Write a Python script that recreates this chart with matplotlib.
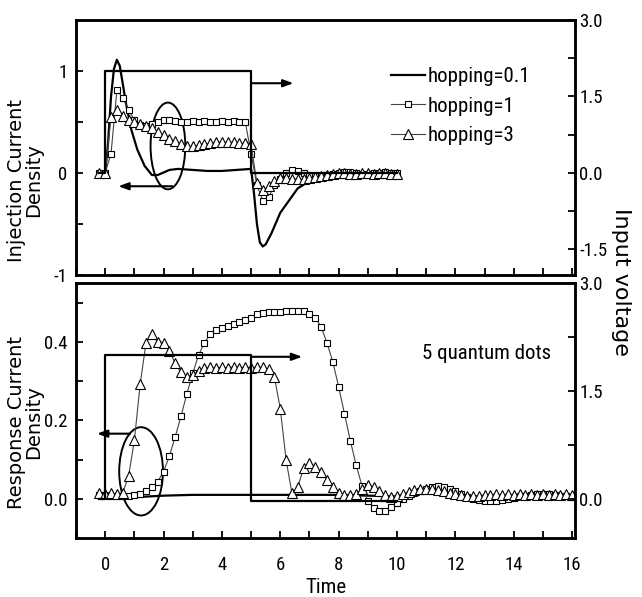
import numpy as np
import matplotlib
matplotlib.use("Agg")
import matplotlib.pyplot as plt
from matplotlib import font_manager
from matplotlib.patches import Ellipse
from matplotlib.ticker import FixedLocator, MultipleLocator, FormatStrFormatter

# time grids (markers every 0.2)
t_top = np.round(np.arange(-0.2, 10.01, 0.2), 1)
t_bot = np.round(np.arange(-0.2, 16.01, 0.2), 1)

# input voltage (right axis)
t_volt = [-0.2, 0, 0, 5, 5, 10]
v_top = [0, 0, 2, 2, 0, 0]
v_bot = [0, 0, 2, 2, -0.03, -0.03]

# injection current, hopping=0.1 (solid line)
t_h01_top = [-0.2, 0.0, 0.1, 0.2, 0.3, 0.4, 0.5, 0.6, 0.7, 0.9, 1.1, 1.35, 1.6, 1.8,
             2.2, 2.5, 3.0, 3.5, 4.0, 4.5, 5.0, 5.1, 5.2, 5.3, 5.4, 5.5, 5.7, 6.0,
             6.4, 6.6, 7.0, 7.5, 8.0, 9.0, 10.0]
j_h01_top = [0.0, 0.0, 0.3, 0.75, 1.02, 1.11, 1.05, 0.88, 0.7, 0.42, 0.23, 0.07, -0.02, -0.02,
             0.03, 0.04, 0.03, 0.02, 0.02, 0.03, 0.04, -0.2, -0.5, -0.68, -0.72, -0.7, -0.59, -0.39,
             -0.23, -0.15, -0.08, -0.04, -0.02, -0.01, 0.0]

# injection current, hopping=1 and hopping=3
j_h1_top = [0.00, 0.00, 0.19, 0.81, 0.74, 0.62, 0.52, 0.47, 0.46, 0.48,
            0.50, 0.52, 0.52, 0.51, 0.50, 0.50, 0.51, 0.50, 0.51, 0.50,
            0.50, 0.51, 0.50, 0.51, 0.50, 0.50, 0.19, -0.12, -0.27, -0.24,
            -0.12, -0.06, 0.00, 0.03, 0.02, 0.00, -0.02, -0.03, -0.03, -0.02,
            -0.01, 0.00, 0.01, 0.01, 0.00, -0.01, -0.01, 0.00, 0.00, 0.01,
            0.00, 0.00]
j_h3_top = [0.00, 0.00, 0.55, 0.62, 0.56, 0.52, 0.50, 0.48, 0.46, 0.44,
            0.40, 0.37, 0.33, 0.31, 0.28, 0.26, 0.26, 0.27, 0.28, 0.29,
            0.30, 0.30, 0.30, 0.30, 0.29, 0.29, 0.28, -0.10, -0.17, -0.13,
            -0.08, -0.05, -0.05, -0.06, -0.06, -0.06, -0.05, -0.04, -0.03, -0.02,
            -0.01, 0.00, 0.00, -0.01, -0.01, 0.00, 0.00, -0.01, 0.00, 0.00,
            -0.01, -0.01]

# response current
t_h01_bot = [-0.2, 0, 1, 2, 3, 4, 5, 6, 7, 8, 9, 10]
j_h01_bot = [0, 0, 0.004, 0.008, 0.01, 0.01, 0.01, 0.01, 0.01, 0.01, 0.008, 0.006]
j_h1_bot = [0.010, 0.010, 0.008, 0.008, 0.008, 0.008, 0.010, 0.012, 0.019, 0.030,
            0.044, 0.069, 0.109, 0.158, 0.211, 0.268, 0.320, 0.366, 0.398, 0.419,
            0.430, 0.435, 0.440, 0.446, 0.451, 0.457, 0.462, 0.470, 0.474, 0.477,
            0.477, 0.477, 0.478, 0.478, 0.479, 0.478, 0.472, 0.462, 0.438, 0.398,
            0.349, 0.286, 0.217, 0.148, 0.086, 0.033, -0.005, -0.023, -0.030, -0.030,
            -0.020, -0.010, 0.000, 0.008, 0.015, 0.020, 0.025, 0.030, 0.032, 0.030,
            0.025, 0.020, 0.012, 0.005, 0.000, -0.004, -0.006, -0.006, -0.005, -0.003,
            0.000, 0.003, 0.006, 0.008, 0.010, 0.012, 0.012, 0.012, 0.010, 0.008,
            0.006, 0.005]
j_h3_bot = [0.015, 0.012, 0.015, 0.012, 0.015, 0.057, 0.149, 0.293, 0.398, 0.419,
            0.400, 0.398, 0.377, 0.345, 0.322, 0.311, 0.316, 0.326, 0.333, 0.335,
            0.333, 0.336, 0.333, 0.337, 0.334, 0.336, 0.334, 0.336, 0.335, 0.331,
            0.310, 0.230, 0.099, 0.014, 0.030, 0.078, 0.092, 0.082, 0.069, 0.048,
            0.031, 0.016, 0.010, 0.010, 0.012, 0.025, 0.035, 0.030, 0.020, 0.010,
            0.005, 0.008, 0.012, 0.018, 0.022, 0.025, 0.026, 0.025, 0.022, 0.020,
            0.016, 0.012, 0.010, 0.008, 0.008, 0.008, 0.010, 0.010, 0.012, 0.010,
            0.012, 0.010, 0.012, 0.010, 0.012, 0.010, 0.012, 0.010, 0.012, 0.010,
            0.012, 0.010]

labels = ["hopping=0.1", "hopping=1", "hopping=3"]

# look for a condensed face for the horizontal text, else plain Liberation Sans
narrow_file = None
for key in ["LiberationSansNarrow-Regular", "RobotoCondensed-Regular", "OpenSans_Condensed-Regular",
            "OpenSansCondensed-Regular", "DejaVuSansCondensed.ttf"]:
    for f in font_manager.fontManager.ttflist:
        if key in f.fname:
            narrow_file = f.fname
            break
    if narrow_file:
        break

plt.rcParams["font.family"] = "Liberation Sans"
plt.rcParams["axes.unicode_minus"] = False
if narrow_file:
    fp_tick = font_manager.FontProperties(fname=narrow_file, size=13.5)
    fp_text = font_manager.FontProperties(fname=narrow_file, size=15)
else:
    fp_tick = font_manager.FontProperties(family="Liberation Sans", size=12)
    fp_text = font_manager.FontProperties(family="Liberation Sans", size=13)

fig = plt.figure(figsize=(6.42, 5.97), dpi=100)
ax1 = fig.add_axes([0.1184, 0.5394, 0.7772, 0.4271])
ax2 = fig.add_axes([0.1184, 0.0988, 0.7772, 0.4271])

line_kw = dict(color="black", lw=1.6)
sq_kw = dict(color="#444444", lw=0.8, marker="s", ms=5, mfc="white", mec="black", mew=0.8)
tri_kw = dict(color="#444444", lw=0.8, marker="^", ms=6.5, mfc="white", mec="black", mew=0.8)

# top panel
ax1.plot(t_h01_top, j_h01_top, label=labels[0], **line_kw)
ax1.plot(t_top, j_h1_top, label=labels[1], **sq_kw)
ax1.plot(t_top, j_h3_top, label=labels[2], **tri_kw)
ax1.set_ylim(-1, 1.5)
ax1.yaxis.set_major_locator(FixedLocator([-1, 0, 1]))
ax1.yaxis.set_minor_locator(FixedLocator([-0.5, 0.5]))
ax1.tick_params(axis="x", labelbottom=False)

ax1r = ax1.twinx()
ax1r.plot(t_volt, v_top, color="black", lw=1.6)
ax1r.set_ylim(-2, 3)
ax1r.yaxis.set_major_locator(FixedLocator([-1.5, 0, 1.5, 3.0]))
ax1r.yaxis.set_minor_locator(FixedLocator([-0.75, 0.75, 2.25]))

ax1.add_patch(Ellipse((2.15, 0.265), 1.19, 0.85, fill=False, lw=1.4, color="black"))
arrow = dict(arrowstyle="-|>,head_length=0.6,head_width=0.22", lw=1.5, color="black",
             shrinkA=0, shrinkB=0)
ax1.annotate("", xy=(6.45, 0.88), xytext=(5.0, 0.88), arrowprops=arrow)
ax1.annotate("", xy=(0.45, -0.13), xytext=(2.3, -0.13), arrowprops=arrow)

ax1.legend(loc="upper left", bbox_to_anchor=(0.632, 0.815), frameon=False, prop=fp_text,
           handlelength=1.6, handletextpad=0.15, labelspacing=0.5, borderpad=0,
           borderaxespad=0, numpoints=1)

# bottom panel
ax2.plot(t_h01_bot, j_h01_bot, **line_kw)
ax2.plot(t_bot, j_h1_bot, **sq_kw)
ax2.plot(t_bot, j_h3_bot, **tri_kw)
ax2.set_ylim(-0.1, 0.55)
ax2.yaxis.set_major_locator(FixedLocator([0.0, 0.2, 0.4]))
ax2.yaxis.set_minor_locator(FixedLocator([0.1, 0.3, 0.5]))
ax2.yaxis.set_major_formatter(FormatStrFormatter("%.1f"))

ax2r = ax2.twinx()
ax2r.plot(t_volt, v_bot, color="black", lw=1.6)
ax2r.set_ylim(-0.545, 3.0)
ax2r.yaxis.set_major_locator(FixedLocator([0, 1.5, 3.0]))
ax2r.yaxis.set_minor_locator(FixedLocator([0.75, 2.25]))

ax2.add_patch(Ellipse((1.23, 0.07), 1.5, 0.225, fill=False, lw=1.4, color="black"))
ax2.annotate("", xy=(6.75, 0.362), xytext=(5.0, 0.362), arrowprops=arrow)
ax2.annotate("", xy=(-0.28, 0.166), xytext=(0.85, 0.166), arrowprops=arrow)
ax2.text(0.693, 0.722, "5 quantum dots", transform=ax2.transAxes, ha="left", va="center",
         fontproperties=fp_text)

for ax in (ax1, ax2):
    ax.set_xlim(-1, 16.1)
    ax.xaxis.set_major_locator(MultipleLocator(2))
    ax.xaxis.set_minor_locator(MultipleLocator(1))
for ax in (ax1, ax2, ax1r, ax2r):
    ax.tick_params(which="both", direction="in", length=5, width=1.3)
    ax.tick_params(axis="x", pad=13)
    for s in ax.spines.values():
        s.set_linewidth(1.8)
    for lab in ax.get_xticklabels() + ax.get_yticklabels():
        lab.set_fontproperties(fp_tick)
for ax in (ax1r, ax2r):
    ax.yaxis.set_major_formatter(FormatStrFormatter("%.1f"))
    ax.tick_params(axis="y", pad=3)
    ax.tick_params(axis="x", which="both", length=0)
ax1.tick_params(axis="y", pad=6)
ax2.tick_params(axis="y", pad=6)

# axis titles
fig.text(0.039, 0.698, "Injection Current\nDensity", rotation=90, ha="center", va="center",
         family="DejaVu Sans", fontsize=14, linespacing=0.85)
fig.text(0.039, 0.293, "Response Current\nDensity", rotation=90, ha="center", va="center",
         family="DejaVu Sans", fontsize=14, linespacing=0.85)
fig.text(0.968, 0.528, "Input voltage", rotation=-90, ha="center", va="center",
         family="DejaVu Sans", fontsize=16)
fig.text(0.508, 0.0, "Time", ha="center", va="bottom", fontproperties=fp_text)

fig.savefig("out.png", dpi=100)
